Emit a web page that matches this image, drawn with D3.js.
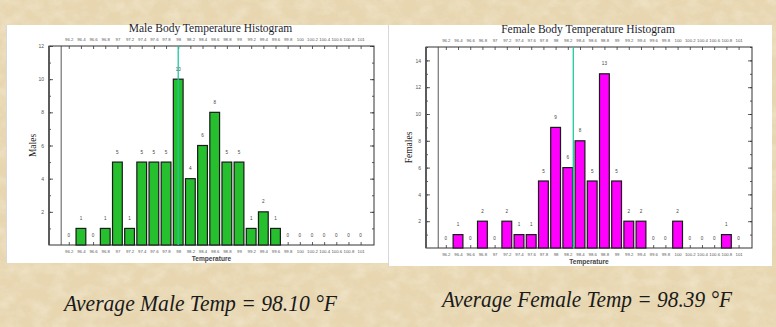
<!DOCTYPE html>
<html>
<head>
<meta charset="utf-8">
<script src="https://cdn.jsdelivr.net/npm/d3@7/dist/d3.min.js"></script>
<style>
  html, body { margin: 0; padding: 0; background: #e8d7b0; }
  svg { display: block; }
</style>
</head>
<body>
<svg id="chart" width="776" height="327"></svg>
<script>
// Temperature bins (left edge of each 0.2 °F bin) and their axis labels
const categories = [96.2, 96.4, 96.6, 96.8, 97.0, 97.2, 97.4, 97.6, 97.8, 98.0, 98.2, 98.4, 98.6,
                    98.8, 99.0, 99.2, 99.4, 99.6, 99.8, 100.0, 100.2, 100.4, 100.6, 100.8, 101.0];
const tickLabels = ["96.2", "96.4", "96.6", "96.8", "97", "97.2", "97.4", "97.6", "97.8", "98", "98.2", "98.4", "98.6",
                    "98.8", "99", "99.2", "99.4", "99.6", "99.8", "100", "100.2", "100.4", "100.6", "100.8", "101"];

// Counts per bin
const maleCounts   = [0, 1, 0, 1, 5, 1, 5, 5, 5, 10, 4, 6, 8, 5, 5, 1, 2, 1, 0, 0, 0, 0, 0, 0, 0];
const femaleCounts = [0, 1, 0, 2, 0, 2, 1, 1, 5, 9, 6, 8, 5, 13, 5, 2, 2, 0, 0, 2, 0, 0, 0, 1, 0];

// Mean temperatures
const maleMean = 98.10;
const femaleMean = 98.39;

const binWidth = 0.2;

const svg = d3.select("#chart");

// ---- parchment background ----
const defs = svg.append("defs");
const paper = defs.append("filter").attr("id", "paper").attr("x", 0).attr("y", 0).attr("width", 1).attr("height", 1);
paper.append("feTurbulence").attr("type", "fractalNoise").attr("baseFrequency", "0.06 0.08")
  .attr("numOctaves", 4).attr("seed", 7).attr("result", "noise");
paper.append("feColorMatrix").attr("in", "noise").attr("type", "matrix")
  .attr("values", "0 0 0 0 0.96  0 0 0 0 0.91  0 0 0 0 0.79  1.3 0 0 0 -0.5");
const specks = defs.append("filter").attr("id", "specks").attr("x", 0).attr("y", 0).attr("width", 1).attr("height", 1);
specks.append("feTurbulence").attr("type", "fractalNoise").attr("baseFrequency", "0.25")
  .attr("numOctaves", 2).attr("seed", 3).attr("result", "noise");
specks.append("feColorMatrix").attr("in", "noise").attr("type", "matrix")
  .attr("values", "0 0 0 0 0.78  0 0 0 0 0.68  0 0 0 0 0.50  -1.6 0 0 0 0.85");

svg.append("rect").attr("width", 776).attr("height", 327).attr("fill", "#e7d6b0");
svg.append("rect").attr("width", 776).attr("height", 327).attr("filter", "url(#paper)").attr("opacity", 0.6);
svg.append("rect").attr("width", 776).attr("height", 327).attr("filter", "url(#specks)").attr("opacity", 0.25);

// ---- one histogram panel ----
function drawHistogram(cfg) {
  const g = svg.append("g");

  // white card
  g.append("rect")
    .attr("x", cfg.panel.x).attr("y", cfg.panel.y)
    .attr("width", cfg.panel.w).attr("height", cfg.panel.h)
    .attr("fill", "#ffffff");
  g.append("line")
    .attr("x1", cfg.panel.x + 0.5).attr("x2", cfg.panel.x + 0.5)
    .attr("y1", cfg.panel.y).attr("y2", cfg.panel.y + cfg.panel.h)
    .attr("stroke", "#d8d8d8");

  const p = cfg.plot;
  const x = d3.scaleLinear().domain([95.975, 101.32]).range([p.left, p.right]);
  const y = d3.scaleLinear().domain([0, cfg.yMax]).range([p.bottom, p.top]);

  const centers = categories.map(c => c + binWidth / 2);
  const labelFor = v => tickLabels[d3.minIndex(centers, c => Math.abs(c - v))];

  const tickFont = "Liberation Sans, Arial, sans-serif";

  // top axis
  const topAxis = g.append("g").attr("transform", `translate(0,${p.top})`)
    .call(d3.axisTop(x).tickValues(centers).tickFormat(labelFor).tickSizeInner(-3).tickSizeOuter(0).tickPadding(5.5));
  // bottom axis
  const bottomAxis = g.append("g").attr("transform", `translate(0,${p.bottom})`)
    .call(d3.axisBottom(x).tickValues(centers).tickFormat(labelFor).tickSizeInner(-3).tickSizeOuter(0).tickPadding(5));

  // left axis: minor ticks every unit, labels every 2
  const majorY = d3.range(2, cfg.yMax + 1, 2);
  const minorY = d3.range(1, cfg.yMax + 1, 1);
  const leftMinor = g.append("g").attr("transform", `translate(${p.left},0)`)
    .call(d3.axisLeft(y).tickValues(minorY).tickFormat("").tickSizeInner(-2).tickSizeOuter(0));
  const leftAxis = g.append("g").attr("transform", `translate(${p.left},0)`)
    .call(d3.axisLeft(y).tickValues(majorY).tickFormat(d3.format("d")).tickSizeInner(-4).tickSizeOuter(0).tickPadding(5));
  const rightMinor = g.append("g").attr("transform", `translate(${p.right},0)`)
    .call(d3.axisRight(y).tickValues(minorY).tickFormat("").tickSizeInner(-2).tickSizeOuter(0));
  const rightAxis = g.append("g").attr("transform", `translate(${p.right},0)`)
    .call(d3.axisRight(y).tickValues(majorY).tickFormat("").tickSizeInner(-4).tickSizeOuter(0));

  [topAxis, bottomAxis, leftMinor, leftAxis, rightMinor, rightAxis].forEach(a => {
    a.selectAll(".domain").remove();
    a.selectAll(".tick line").attr("stroke", "#333").attr("stroke-width", 0.8);
    a.selectAll(".tick text").attr("font-family", tickFont).attr("font-size", 4.3).attr("fill", "#555");
  });
  leftAxis.selectAll(".tick text").attr("font-size", 5);

  // frame
  g.append("rect")
    .attr("x", p.left).attr("y", p.top)
    .attr("width", p.right - p.left).attr("height", p.bottom - p.top)
    .attr("fill", "none").attr("stroke", "#333").attr("stroke-width", 1);
  g.append("line")
    .attr("x1", p.left).attr("x2", p.left).attr("y1", p.top).attr("y2", p.bottom)
    .attr("stroke", "#555").attr("stroke-width", 1.8);

  // inner reference line at the start of the first bin
  const innerX = x(categories[0]) - 1.5;
  g.append("line")
    .attr("x1", innerX).attr("x2", innerX).attr("y1", p.top).attr("y2", p.bottom)
    .attr("stroke", "#444").attr("stroke-width", 0.9);

  // bars
  const pad = 1.2;
  const data = categories.map((c, i) => ({ c, v: cfg.counts[i] }));
  g.append("g").selectAll("rect")
    .data(data.filter(d => d.v > 0))
    .join("rect")
    .attr("x", d => x(d.c) + pad)
    .attr("y", d => y(d.v))
    .attr("width", d => x(d.c + binWidth) - x(d.c) - 2 * pad)
    .attr("height", d => y(0) - y(d.v))
    .attr("fill", cfg.color)
    .attr("stroke", "#1a1a1a")
    .attr("stroke-width", 1.2);

  // count labels
  g.append("g").selectAll("text")
    .data(data)
    .join("text")
    .attr("x", d => x(d.c + binWidth / 2))
    .attr("y", d => y(d.v) - 8.5)
    .attr("text-anchor", "middle")
    .attr("font-family", tickFont)
    .attr("font-size", 4.6)
    .attr("fill", "#444")
    .text(d => d.v);

  // mean line
  g.append("line")
    .attr("x1", x(cfg.mean)).attr("x2", x(cfg.mean))
    .attr("y1", p.top).attr("y2", p.bottom)
    .attr("stroke", "#1ec9a2").attr("stroke-width", 1.3);

  // title
  g.append("text")
    .attr("x", (p.left + p.right) / 2 - 1)
    .attr("y", cfg.titleY)
    .attr("text-anchor", "middle")
    .attr("font-family", "Liberation Serif, Times New Roman, serif")
    .attr("font-size", 11.5)
    .attr("fill", "#1e1e2a")
    .text(cfg.title);

  // x axis title
  g.append("text")
    .attr("x", (p.left + p.right) / 2)
    .attr("y", p.bottom + 15.5)
    .attr("text-anchor", "middle")
    .attr("font-family", tickFont)
    .attr("font-weight", "bold")
    .attr("font-size", 6.6)
    .attr("fill", "#444")
    .text("Temperature");

  // y axis title
  g.append("text")
    .attr("transform", `translate(${cfg.yLabelX},${(p.top + p.bottom) / 2}) rotate(-90)`)
    .attr("text-anchor", "middle")
    .attr("font-family", "Liberation Serif, Times New Roman, serif")
    .attr("font-size", 9.5)
    .attr("fill", "#222")
    .text(cfg.yLabel);

  // caption
  svg.append("text")
    .attr("x", cfg.caption.x)
    .attr("y", cfg.caption.y)
    .attr("textLength", cfg.caption.len)
    .attr("lengthAdjust", "spacingAndGlyphs")
    .attr("font-family", "Liberation Serif, Times New Roman, serif")
    .attr("font-style", "italic")
    .attr("font-size", 23)
    .attr("fill", "#1a1a1a")
    .text(cfg.caption.text);
}

drawHistogram({
  panel: { x: 6, y: 25, w: 382, h: 238 },
  plot: { left: 49, right: 374, top: 46, bottom: 245 },
  yMax: 12,
  counts: maleCounts,
  mean: maleMean,
  color: "#26bf2e",
  title: "Male Body Temperature Histogram",
  titleY: 31.5,
  yLabel: "Males",
  yLabelX: 36,
  caption: { x: 64, y: 311, len: 273, text: `Average Male Temp = ${maleMean.toFixed(2)} °F` }
});

drawHistogram({
  panel: { x: 388, y: 25, w: 384, h: 241 },
  plot: { left: 426, right: 752, top: 47, bottom: 248 },
  yMax: 15,
  counts: femaleCounts,
  mean: femaleMean,
  color: "#ff00ff",
  title: "Female Body Temperature Histogram",
  titleY: 32.5,
  yLabel: "Females",
  yLabelX: 412,
  caption: { x: 442, y: 307, len: 290, text: `Average Female Temp = ${femaleMean.toFixed(2)} °F` }
});
</script>
</body>
</html>
